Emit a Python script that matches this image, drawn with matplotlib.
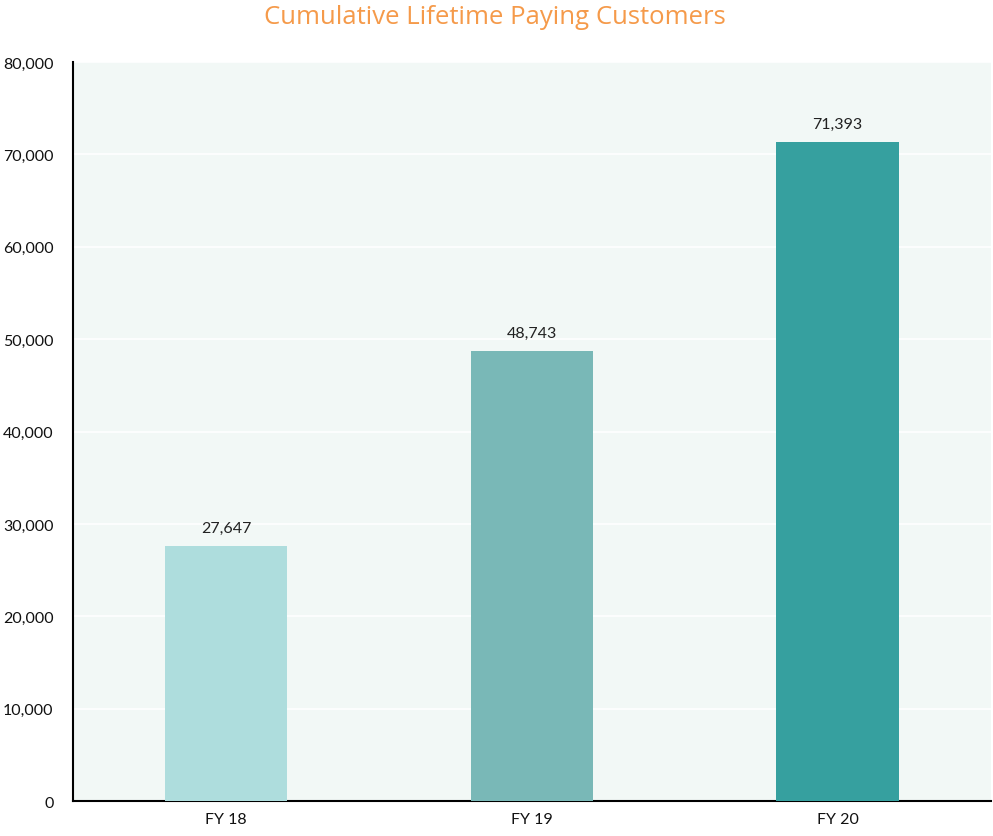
import matplotlib
matplotlib.use("Agg")
import matplotlib.pyplot as plt
from matplotlib.ticker import FuncFormatter

categories = ["FY 18", "FY 19", "FY 20"]
values = [27647, 48743, 71393]
colors = ["#AEDDDD", "#79B8B7", "#36A09F"]

plt.rcParams['font.family'] = ['Lato', 'DejaVu Sans']

fig = plt.figure(figsize=(9.93, 8.37), dpi=100)
ax = fig.add_axes([0.0735, 0.0418, 0.924, 0.8829])
ax.set_facecolor("#F2F8F6")

x = range(len(categories))
bars = ax.bar(x, values, width=0.4, color=colors, zorder=3)
for xi, v in zip(x, values):
    ax.text(xi, v + 1200, f"{v:,}", ha="center", va="bottom", fontsize=11.5, color="#222222", zorder=4)

ax.set_xlim(-0.5, 2.5)
ax.set_ylim(0, 80000)
ax.set_yticks(range(0, 80001, 10000))
ax.yaxis.set_major_formatter(FuncFormatter(lambda v, p: f"{int(v):,}"))
ax.set_xticks(list(x))
ax.set_xticklabels(categories)
ax.tick_params(axis="both", length=0, labelsize=11.5, colors="#111111")
ax.tick_params(axis="y", pad=14)
ax.tick_params(axis="x", pad=8)
ax.grid(axis="y", color="white", linewidth=1.2, zorder=0)
ax.set_axisbelow(True)
for s in ["top", "right"]:
    ax.spines[s].set_visible(False)
for s in ["left", "bottom"]:
    ax.spines[s].set_color("black")
    ax.spines[s].set_linewidth(1.5)

fig.text(0.498, 0.994, "Cumulative Lifetime Paying Customers", ha="center", va="top",
         fontsize=18.5, color="#F59A4A", family=["Open Sans", "DejaVu Sans"])

fig.savefig("out.png", dpi=100)
